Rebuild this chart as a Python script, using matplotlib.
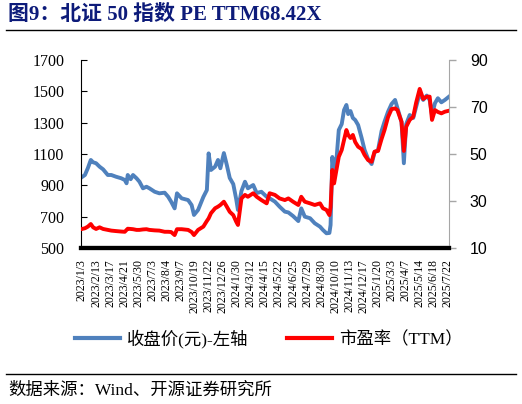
"""北证50指数 收盘价与市盈率(TTM)."""
import matplotlib
matplotlib.use("Agg")
import matplotlib.pyplot as plt
from matplotlib.lines import Line2D

# trading-day index (0 = 2023/1/3) of each sampled point
day_idx = [0, 5, 10, 15, 19, 24, 30, 36, 44, 50, 58, 67, 73, 76, 78, 83, 87, 93, 98,
           104, 110, 115, 124, 132, 141, 147, 152, 158, 162, 170, 181, 187, 191, 198,
           207, 213, 216, 220, 227, 232, 236, 242, 247, 252, 258, 263, 266, 272, 278,
           283, 292, 298, 306, 315, 320, 329, 337, 346, 352, 360, 369, 374, 380, 389,
           397, 406, 411, 417, 422, 424, 427, 430, 434, 438, 443, 447, 451, 454, 458,
           462, 466, 471, 477, 482, 488, 494, 499, 505, 511, 516, 522, 528, 534, 538,
           545, 549, 553, 559, 565, 570, 576, 582, 588, 593, 597, 602, 607, 613, 619, 626]

close = [953, 966, 1010, 1062, 1047, 1041, 1019, 1002, 966, 966, 955, 945, 934, 913,
         966, 939, 966, 945, 923, 881, 891, 881, 859, 849, 853, 827, 796, 753, 849, 817,
         806, 774, 711, 743, 826, 870, 1104, 998, 1019, 1062, 1009, 1106, 1030, 947, 908,
         813, 743, 864, 923, 881, 902, 851, 859, 827, 817, 796, 764, 732, 727, 704, 672,
         753, 700, 690, 658, 636, 615, 594, 596, 647, 1081, 966, 1062, 1253, 1291, 1381,
         1413, 1355, 1374, 1330, 1317, 1285, 1202, 1126, 1068, 1036, 1110, 1126, 1247,
         1306, 1370, 1419, 1445, 1394, 1306, 1041, 1291, 1349, 1330, 1402, 1487, 1445,
         1473, 1445, 1349, 1424, 1456, 1430, 1445, 1466]

pe = [18.1, 18.4, 19.1, 20.2, 18.8, 18.1, 18.8, 18.1, 17.7, 17.4, 17.2, 17.0, 16.9,
      17.7, 18.2, 18.1, 18.0, 17.7, 17.7, 17.9, 18.0, 17.7, 17.5, 17.4, 16.9, 16.9,
      16.8, 15.5, 18.0, 18.0, 17.7, 16.8, 15.5, 17.7, 19.1, 21.5, 22.6, 24.8, 26.9,
      27.6, 28.3, 29.7, 27.6, 25.4, 24.0, 21.2, 19.8, 31.1, 32.6, 31.8, 33.3, 31.8,
      30.4, 29.0, 33.3, 32.6, 31.1, 30.4, 31.1, 29.7, 28.3, 31.8, 29.7, 29.0, 28.3,
      29.0, 26.9, 26.2, 24.0, 27.4, 43.2, 37.5, 43.2, 48.8, 51.7, 56.0, 60.2, 58.1,
      56.8, 58.1, 55.1, 53.1, 52.1, 49.6, 47.4, 46.7, 51.0, 51.3, 56.4, 60.2, 65.7,
      69.1, 69.4, 68.7, 63.7, 51.3, 61.6, 64.5, 65.9, 71.9, 77.7, 73.4, 74.4, 74.4,
      64.5, 68.7, 67.9, 67.3, 68.0, 68.42]

tick_idx = list(range(0, 625, 24))
tick_labels = ["2023/1/3", "2023/2/13", "2023/3/17", "2023/4/21", "2023/5/30",
               "2023/7/3", "2023/8/4", "2023/9/7", "2023/10/19", "2023/11/22",
               "2023/12/26", "2024/1/30", "2024/3/12", "2024/4/15", "2024/5/22",
               "2024/6/25", "2024/7/29", "2024/8/30", "2024/10/10", "2024/11/13",
               "2024/12/17", "2025/1/20", "2025/3/3", "2025/4/7", "2025/5/14",
               "2025/6/18", "2025/7/22"]

SERIF_CJK = ["Liberation Serif", "Noto Sans CJK SC"]
BLUE = "#4F81BD"
RED = "#FF0000"

fig = plt.figure(figsize=(5.22, 4.04), dpi=100)
ax = fig.add_axes([81 / 522, 1 - 248 / 404, 368 / 522, 188 / 404])
ax2 = ax.twinx()

ax.plot(day_idx, close, color=BLUE, lw=2.8, solid_joinstyle="round")
ax2.plot(day_idx, pe, color=RED, lw=2.8, solid_joinstyle="round")

ax.set_xlim(-1.7, 626)
ax.set_ylim(500, 1700)
ax.set_yticks(range(500, 1701, 200))
ax2.set_ylim(10, 90)
ax2.set_yticks(range(10, 91, 20))

ax.set_xticks(tick_idx)
ax.set_xticklabels(tick_labels, rotation=90, family="Liberation Serif", fontsize=8.5)
ax.tick_params(axis="x", length=0, pad=8)
ax.tick_params(axis="y", direction="in", length=4, width=0.8, labelsize=11.5, pad=12)
for lab in ax.get_yticklabels():
    lab.set_family("Liberation Serif")

ax2.tick_params(axis="y", direction="out", length=5, width=1, color="#A6A6A6",
                labelsize=11.5, pad=10)
for lab in ax2.get_yticklabels():
    lab.set_family("Liberation Sans")

for a in (ax, ax2):
    a.spines["top"].set_visible(False)
    a.spines["bottom"].set_linewidth(3)
    a.spines["bottom"].set_color("black")
ax2.spines["left"].set_visible(False)
ax2.spines["right"].set_color("#A6A6A6")
ax.spines["right"].set_visible(False)
ax.spines["left"].set_linewidth(0.8)

handles = [Line2D([], [], color=BLUE, lw=3), Line2D([], [], color=RED, lw=3)]
fig.legend(handles, ["收盘价(元)-左轴", "市盈率（TTM）"], loc="center",
           bbox_to_anchor=(0.515, 1 - 339 / 404), ncol=2, frameon=False,
           prop={"family": SERIF_CJK, "size": 12.5}, handlelength=2.6,
           columnspacing=2.2, handletextpad=0.4)

fig.text(8 / 522, 1 - 15 / 404, "图9：北证 50 指数 PE TTM68.42X", color="#0D1B7A",
         fontsize=15, fontweight="bold", family=SERIF_CJK, va="center")
fig.add_artist(Line2D([6 / 522, 516 / 522], [1 - 30 / 404] * 2, color="black", lw=1))
fig.add_artist(Line2D([6 / 522, 516 / 522], [1 - 374 / 404] * 2, color="black", lw=1))
fig.text(8 / 522, 1 - 391 / 404, "数据来源：Wind、开源证券研究所", fontsize=12.5,
         family=SERIF_CJK, va="center")

fig.savefig("out.png", dpi=100)
